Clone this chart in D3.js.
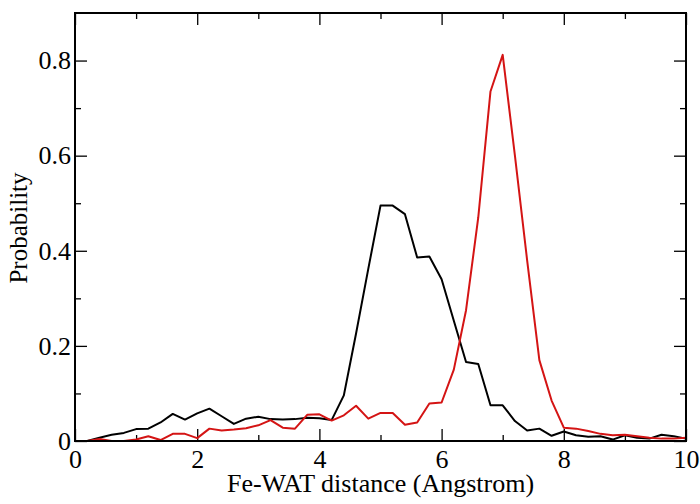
<!DOCTYPE html>
<html>
<head>
<meta charset="utf-8">
<script src="https://cdn.jsdelivr.net/npm/d3@7"></script>
<style>
  html, body { margin: 0; padding: 0; background: #fff; }
  svg { display: block; }
  svg text { font-family: "Liberation Serif", "Times New Roman", serif !important; }
</style>
</head>
<body>
<svg id="chart" width="700" height="504"></svg>
<script>
// ---- data ----
const distances = [0.2,0.4,0.6,0.8,1.0,1.2,1.4,1.6,1.8,2.0,2.2,2.4,2.6,2.8,3.0,3.2,3.4,3.6,3.8,4.0,
  4.2,4.4,4.6,4.8,5.0,5.2,5.4,5.6,5.8,6.0,6.2,6.4,6.6,6.8,7.0,7.2,7.4,7.6,7.8,8.0,
  8.2,8.4,8.6,8.8,9.0,9.2,9.4,9.6,9.8,10.0];
const blackSeries = [0.000,0.007,0.013,0.017,0.025,0.026,0.039,0.057,0.045,0.058,
  0.068,0.052,0.036,0.047,0.051,0.046,0.045,0.046,0.049,0.048,
  0.044,0.096,0.226,0.362,0.495,0.495,0.477,0.386,0.388,0.340,
  0.253,0.166,0.162,0.075,0.075,0.042,0.022,0.026,0.011,0.020,
  0.012,0.009,0.010,0.003,0.012,0.007,0.005,0.013,0.010,0.005];
const redSeries = [0.000,0.004,0.000,0.000,0.003,0.010,0.002,0.015,0.015,0.006,
  0.026,0.022,0.024,0.027,0.033,0.044,0.028,0.026,0.055,0.056,
  0.043,0.054,0.074,0.047,0.059,0.059,0.034,0.039,0.079,0.081,
  0.150,0.275,0.470,0.735,0.812,0.600,0.380,0.170,0.085,0.028,
  0.026,0.021,0.015,0.012,0.013,0.010,0.007,0.005,0.005,0.007];
const xMajorTicks = [0,2,4,6,8,10];
const xMinorTicks = [1,3,5,7,9];
const yMajorTicks = [0,0.2,0.4,0.6,0.8];
const yMinorTicks = [0.1,0.3,0.5,0.7];
const xTitle = "Fe-WAT distance (Angstrom)";
const yTitle = "Probability";

// ---- layout ----
const W = 700, H = 504;
const m = {left: 75, right: 14, top: 13, bottom: 63};
const iw = W - m.left - m.right, ih = H - m.top - m.bottom;
const serif = '"Liberation Serif", "Times New Roman", serif';

const svg = d3.select("#chart");
const g = svg.append("g").attr("transform", `translate(${m.left},${m.top})`);

const x = d3.scaleLinear().domain([0, 10]).range([0, iw]);
const y = d3.scaleLinear().domain([0, 0.9]).range([ih, 0]);

const fontSize = 26;
const yFmt = d => d === 0 ? "0" : d3.format(".1f")(d);

function styleAxis(sel) {
  sel.attr("font-family", null).attr("font-size", null);
  sel.select(".domain").remove();
  sel.selectAll("line").attr("stroke", "#000").attr("stroke-width", 1.3);
  sel.selectAll("text")
     .style("font-family", serif).style("font-size", fontSize + "px").attr("fill", "#000");
}

// bottom axis
g.append("g").attr("transform", `translate(0,${ih})`)
  .call(d3.axisBottom(x).tickValues(xMajorTicks).tickSizeInner(-12).tickSizeOuter(0).tickPadding(9).tickFormat(d3.format("d")))
  .call(styleAxis);
g.append("g").attr("transform", `translate(0,${ih})`)
  .call(d3.axisBottom(x).tickValues(xMinorTicks).tickSizeInner(-6).tickSizeOuter(0).tickFormat(""))
  .call(styleAxis);
// top axis (mirror ticks)
g.append("g")
  .call(d3.axisTop(x).tickValues(xMajorTicks).tickSizeInner(-12).tickSizeOuter(0).tickFormat(""))
  .call(styleAxis);
g.append("g")
  .call(d3.axisTop(x).tickValues(xMinorTicks).tickSizeInner(-6).tickSizeOuter(0).tickFormat(""))
  .call(styleAxis);
// left axis
g.append("g")
  .call(d3.axisLeft(y).tickValues(yMajorTicks).tickSizeInner(-12).tickSizeOuter(0).tickPadding(4).tickFormat(yFmt))
  .call(styleAxis);
g.append("g")
  .call(d3.axisLeft(y).tickValues(yMinorTicks).tickSizeInner(-6).tickSizeOuter(0).tickFormat(""))
  .call(styleAxis);
// right axis (mirror ticks)
g.append("g").attr("transform", `translate(${iw},0)`)
  .call(d3.axisRight(y).tickValues(yMajorTicks).tickSizeInner(-12).tickSizeOuter(0).tickFormat(""))
  .call(styleAxis);
g.append("g").attr("transform", `translate(${iw},0)`)
  .call(d3.axisRight(y).tickValues(yMinorTicks).tickSizeInner(-6).tickSizeOuter(0).tickFormat(""))
  .call(styleAxis);

// lines
const line = d3.line().x((d, i) => x(distances[i])).y(d => y(d));
g.append("path").datum(blackSeries)
  .attr("fill", "none").attr("stroke", "#000").attr("stroke-width", 2)
  .attr("stroke-linejoin", "round").attr("d", line);
g.append("path").datum(redSeries)
  .attr("fill", "none").attr("stroke", "#d41414").attr("stroke-width", 2)
  .attr("stroke-linejoin", "round").attr("d", line);

// frame
g.append("rect").attr("x", 0).attr("y", 0).attr("width", iw).attr("height", ih)
  .attr("fill", "none").attr("stroke", "#000").attr("stroke-width", 2);

// titles
svg.append("text")
  .attr("x", m.left + iw / 2).attr("y", 492)
  .attr("text-anchor", "middle").style("font-size", fontSize + "px").style("font-family", serif).attr("fill", "#000")
  .text(xTitle);
svg.append("text")
  .attr("transform", `translate(27,${m.top + ih / 2 + 1}) rotate(-90)`)
  .attr("text-anchor", "middle").style("font-size", "25px").style("font-family", serif).attr("fill", "#000")
  .text(yTitle);
</script>
</body>
</html>
